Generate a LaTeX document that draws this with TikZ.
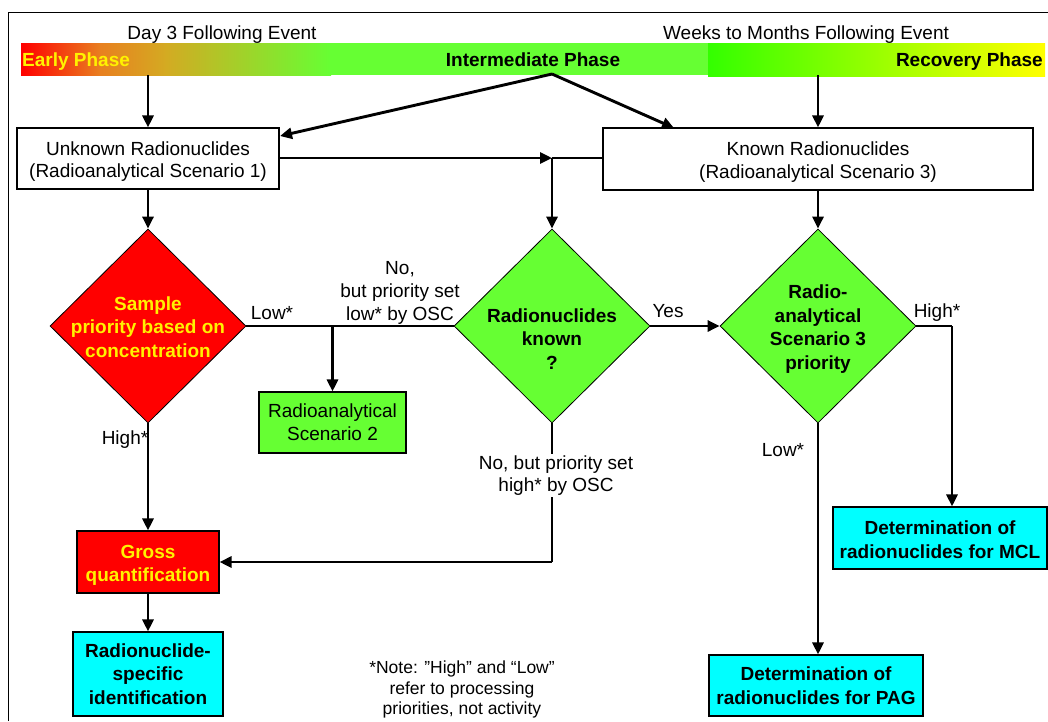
\documentclass[tikz,border=0pt]{standalone}
\usepackage{fontspec}
\setmainfont{Liberation Sans}
\usetikzlibrary{shapes.geometric,arrows.meta}
\definecolor{lime}{RGB}{102,255,51}
\definecolor{brightgreen}{RGB}{51,255,0}
\definecolor{gold}{RGB}{212,170,34}
\definecolor{orng}{RGB}{232,128,32}
\definecolor{aqua}{RGB}{0,255,255}
\begin{document}
\begin{tikzpicture}[x=1pt,y=-1pt,
  txt/.style={font=\fontsize{19}{22.8}\selectfont, align=center, inner sep=0pt},
  btxt/.style={font=\fontsize{19}{23.5}\selectfont\bfseries, align=center, inner sep=0pt},
  wbox/.style={draw=black, line width=1.1pt, fill=white},
  cbox/.style={draw=black, line width=1.1pt, fill=aqua},
  dia/.style={diamond, draw=black, line width=0.8pt, inner sep=0pt, minimum width=196pt, minimum height=194pt},
  arr/.style={line width=2.9pt, -{Triangle[length=12pt,width=11pt]}},
  ln/.style={line width=2.9pt}]
\useasboundingbox (0,0) rectangle (1048,721);
% frame
\draw[line width=1pt] (8,721) -- (8,12) -- (1048,12);
% phase bar
\shade[left color=red, right color=orng] (21,43) rectangle (101,75);
\shade[left color=orng, right color=gold] (100,43) rectangle (166,75);
\shade[left color=gold, right color=lime] (165,43) rectangle (331,75);
\fill[lime] (330,43) rectangle (708,75);
\shade[left color=brightgreen, right color=yellow] (708,43) rectangle (1045,76);
\node[txt, anchor=base] (day3) at (222,39) {Day 3 Following Event};
\node[txt, anchor=base] (weeks) at (806,39) {Weeks to Months Following Event};
\node[btxt, text=yellow, anchor=base west] (early) at (22,66.5) {Early Phase};
\node[btxt, anchor=base] (inter) at (533,66.5) {Intermediate Phase};
\node[btxt, anchor=base east] (recov) at (1043,66.5) {Recovery Phase};
\coordinate (barL) at (148,75);
\coordinate (barR) at (818,75);
\coordinate (barM) at (552,74);
% boxes
\node[wbox, minimum width=262pt, minimum height=61pt] (unk) at (148,158.5) {};
\node[txt, yshift=-3pt] (unkt) at (unk.center) {Unknown Radionuclides\\(Radioanalytical Scenario 1)};
\node[wbox, minimum width=430pt, minimum height=62pt] (known) at (818,159) {};
\node[txt, yshift=-3pt] (knownt) at (known.center) {Known Radionuclides\\(Radioanalytical Scenario 3)};
\node[draw=black, line width=1.1pt, fill=lime, minimum width=147pt, minimum height=61pt, txt] (sc2) at (332.5,422.5) {Radioanalytical\\Scenario 2};
\node[draw=black, line width=1.1pt, fill=red, minimum width=142pt, minimum height=62pt] (gross) at (148,562) {};
\node[btxt, text=yellow, yshift=-3.5pt] (grosst) at (gross.center) {Gross\\quantification};
\node[cbox, minimum width=150pt, minimum height=84pt, btxt] (rsi) at (148,674) {Radionuclide-\\specific\\identification};
\node[cbox, minimum width=214pt, minimum height=62pt] (mcl) at (940,538) {};
\node[btxt, yshift=-1.5pt] (mclt) at (mcl.center) {Determination of\\radionuclides for MCL};
\node[cbox, minimum width=214pt, minimum height=61pt, btxt] (pag) at (816,685.5) {Determination of\\radionuclides for PAG};
% diamonds
\node[dia, fill=red] (d1) at (148,326) {};
\node[btxt, text=yellow] (d1t) at (148,327) {Sample\\priority based on\\concentration};
\node[dia, fill=lime] (d2) at (552,326) {};
\node[btxt] (d2t) at (552,339) {Radionuclides\\known\\?};
\node[dia, fill=lime] (d3) at (818,326) {};
\node[btxt] (d3t) at (818,329) {Radio-\\analytical\\Scenario 3\\priority};
% connectors
\draw[arr] (barL) -- (unk.north);
\draw[arr] (barR) -- (known.north);
\coordinate (unkTip) at (280,136);
\coordinate (knownTip) at (674,128);
\draw[arr] (barM) -- (unkTip);
\draw[arr] (barM) -- (knownTip);
\coordinate (junc) at (552,158);
\draw[arr] (unk.east |- junc) -- (junc);
\draw[ln] (junc) -- (known.west |- junc);
\draw[arr] (junc) -- (d2.north);
\draw[arr] (unk.south) -- (d1.north);
\draw[ln] (d1.east) -- (d2.west);
\coordinate (sc2top) at (332.5,326);
\draw[arr] (sc2top) -- (sc2.north);
\draw[arr] (d1.south) -- (gross.north);
\coordinate (corner) at (552,562);
\draw[ln] (d2.south) -- (corner);
\draw[arr] (corner) -- (gross.east);
\draw[arr] (d2.east) -- (d3.west);
\draw[arr] (known.south) -- (d3.north);
\coordinate (hc) at (952,326);
\draw[ln] (d3.east) -- (hc);
\draw[arr] (hc) -- (hc |- mcl.north);
\draw[arr] (d3.south) -- (d3.south |- pag.north);
\draw[arr] (gross.south) -- (rsi.north);
% labels
\node[txt] (lLow) at (272,313) {Low*};
\node[txt] (lNoLow) at (400,293) {No,\\but priority set\\low* by OSC};
\node[txt] (lHigh) at (125,440) {High*};
\node[txt, fill=white, inner sep=1pt] (lNoHigh) at (556,475.5) {No, but priority set\\high* by OSC};
\node[txt] (lYes) at (668,311) {Yes};
\node[txt] (lHigh3) at (937,312.5) {High*};
\node[txt] (lLow3) at (783,450) {Low*};
\node[font=\fontsize{17.5}{20.8}\selectfont, align=center, inner sep=0pt] (note) at (462,689.5) {*Note: ”High” and “Low”\\refer to processing\\priorities, not activity};
\end{tikzpicture}
\end{document}
